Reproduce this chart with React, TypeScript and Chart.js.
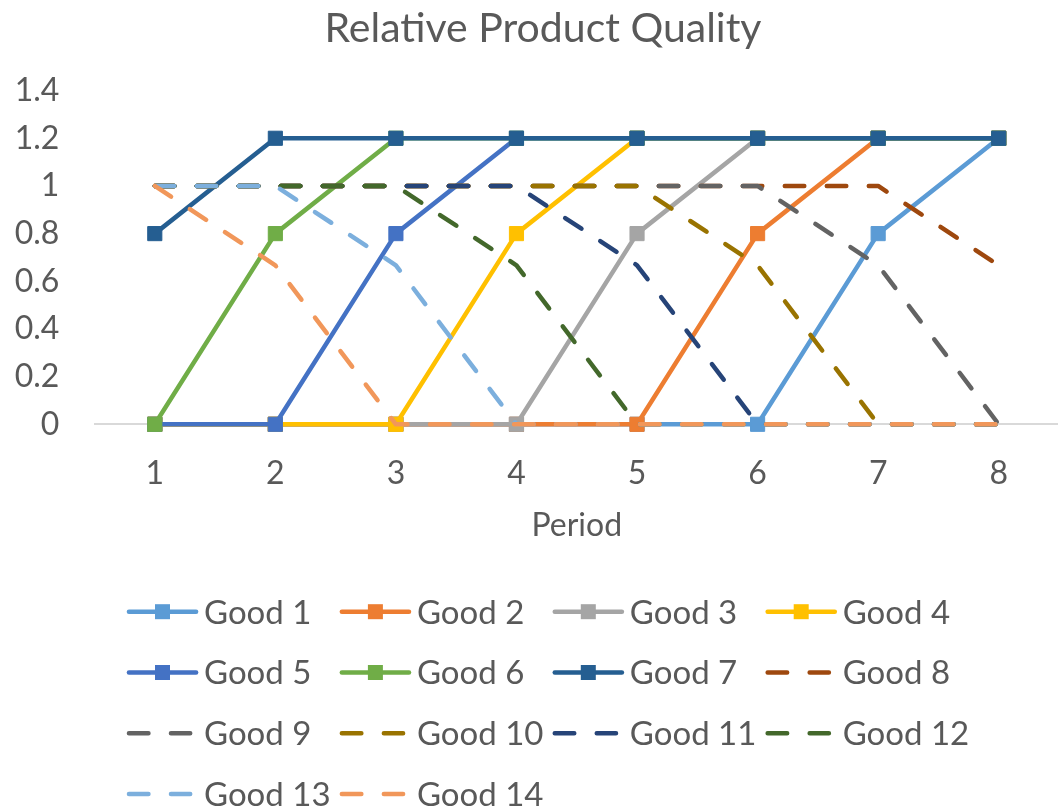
import React, { useEffect, useRef } from "react";
import { Chart, registerables } from "chart.js";

Chart.register(...registerables);

// Categories (periods) on the x axis
const periods = ["1", "2", "3", "4", "5", "6", "7", "8"];

// Series labels
const seriesNames = [
  "Good 1", "Good 2", "Good 3", "Good 4", "Good 5", "Good 6", "Good 7",
  "Good 8", "Good 9", "Good 10", "Good 11", "Good 12", "Good 13", "Good 14",
];

// Rising goods (solid lines with square markers)
const good1 = [0, 0, 0, 0, 0, 0, 0.8, 1.2];
const good2 = [0, 0, 0, 0, 0, 0.8, 1.2, 1.2];
const good3 = [0, 0, 0, 0, 0.8, 1.2, 1.2, 1.2];
const good4 = [0, 0, 0, 0.8, 1.2, 1.2, 1.2, 1.2];
const good5 = [0, 0, 0.8, 1.2, 1.2, 1.2, 1.2, 1.2];
const good6 = [0, 0.8, 1.2, 1.2, 1.2, 1.2, 1.2, 1.2];
const good7 = [0.8, 1.2, 1.2, 1.2, 1.2, 1.2, 1.2, 1.2];

// Declining goods (dashed lines)
const good8 = [1, 1, 1, 1, 1, 1, 1, 0.667];
const good9 = [1, 1, 1, 1, 1, 1, 0.667, 0];
const good10 = [1, 1, 1, 1, 1, 0.667, 0, 0];
const good11 = [1, 1, 1, 1, 0.667, 0, 0, 0];
const good12 = [1, 1, 1, 0.667, 0, 0, 0, 0];
const good13 = [1, 1, 0.667, 0, 0, 0, 0, 0];
const good14 = [1, 0.667, 0, 0, 0, 0, 0, 0];

const seriesValues = [
  good1, good2, good3, good4, good5, good6, good7,
  good8, good9, good10, good11, good12, good13, good14,
];

const seriesColors = [
  "#5B9BD5", "#ED7D31", "#A5A5A5", "#FFC000", "#4472C4", "#70AD47", "#255E91",
  "#9E480E", "#636363", "#997300", "#264478", "#43682B", "#7CAFDD", "#F1975A",
];

// Which series are drawn dashed (no markers)
const dashedSeries = [
  false, false, false, false, false, false, false,
  true, true, true, true, true, true, true,
];

// Y axis range
const yMin = 0;
const yMax = 1.4;
const yStep = 0.2;

const chartTitle = "Relative Product Quality";
const xAxisTitle = "Period";

const FONT = "Lato, 'Open Sans', sans-serif";
const TEXT = "#595959";
const LINE_W = 4.5;
const DASH = [19.5, 22.5];

// Chart title, centred a little right of the canvas middle
const titleText = {
  id: "titleText",
  afterDraw(chart: any) {
    const ctx = chart.ctx as CanvasRenderingContext2D;
    ctx.save();
    ctx.fillStyle = TEXT;
    ctx.font = `41px ${FONT}`;
    ctx.textAlign = "center";
    ctx.textBaseline = "alphabetic";
    ctx.fillText(chartTitle, 543, 41.7);
    ctx.restore();
  },
};

// Grid-style legend laid out in four columns under the x axis title
const legendGrid = {
  id: "legendGrid",
  afterDraw(chart: any) {
    const ctx = chart.ctx as CanvasRenderingContext2D;
    const x0 = 126.7;
    const colW = 212.9;
    const y0 = 611.7;
    const rowH = 60.8;
    ctx.save();
    chart.data.datasets.forEach((ds: any, i: number) => {
      const col = i % 4;
      const row = Math.floor(i / 4);
      const x = x0 + col * colW;
      const y = y0 + row * rowH;
      const dashed = dashedSeries[i];
      ctx.strokeStyle = ds.borderColor;
      ctx.lineWidth = LINE_W;
      ctx.lineCap = "round";
      ctx.setLineDash(dashed ? DASH : []);
      ctx.beginPath();
      ctx.moveTo(x + LINE_W / 2, y);
      ctx.lineTo(x + (dashed ? 63.5 : 69.4), y);
      ctx.stroke();
      ctx.setLineDash([]);
      if (!dashed) {
        ctx.fillStyle = ds.borderColor;
        ctx.fillRect(x + 35.8 - 7.5, y - 7.5, 15, 15);
      }
      ctx.fillStyle = TEXT;
      ctx.font = `33px ${FONT}`;
      ctx.textAlign = "left";
      ctx.textBaseline = "alphabetic";
      ctx.fillText(ds.label, x + 77.3, y + 11.8);
    });
    ctx.restore();
  },
};

export default function App() {
  const canvasRef = useRef<HTMLCanvasElement | null>(null);

  useEffect(() => {
    if (!canvasRef.current) return;
    const n = seriesNames.length;
    const datasets = seriesNames.map((name, i) => {
      const dashed = dashedSeries[i];
      const color = seriesColors[i];
      return {
        label: name,
        data: seriesValues[i],
        borderColor: color,
        backgroundColor: color,
        borderWidth: LINE_W,
        borderDash: dashed ? DASH : [],
        borderCapStyle: "round" as const,
        borderJoinStyle: "round" as const,
        pointStyle: "rect" as const,
        pointRadius: dashed ? 0 : 10,
        pointHoverRadius: dashed ? 0 : 10,
        pointBorderWidth: 1,
        pointBackgroundColor: color,
        pointBorderColor: color,
        tension: 0,
        fill: false,
        clip: false as const,
        // later series sit on top of earlier ones
        order: n - 1 - i,
      };
    });

    const chart = new Chart(canvasRef.current, {
      type: "line",
      data: { labels: periods, datasets },
      options: {
        responsive: false,
        animation: false,
        devicePixelRatio: 1,
        layout: { padding: { left: 0, right: 6.5, top: 90.6, bottom: 256.7 } },
        plugins: {
          legend: { display: false },
          tooltip: { enabled: false },
          title: { display: false },
        },
        scales: {
          x: {
            type: "category",
            offset: true,
            grid: { display: false, drawTicks: false },
            border: { display: true, color: "#D9D9D9", width: 2 },
            ticks: {
              color: TEXT,
              font: { family: FONT, size: 32, lineHeight: 1.2 },
              padding: 30,
              maxRotation: 0,
            },
            title: {
              display: true,
              text: xAxisTitle,
              color: TEXT,
              font: { family: FONT, size: 32, lineHeight: 1.2 },
              padding: { top: 0, bottom: 9 },
            },
            afterFit: (scale: any) => {
              scale.height = 130;
            },
          },
          y: {
            min: yMin,
            max: yMax,
            grid: { display: false, drawTicks: false },
            border: { display: false },
            ticks: {
              stepSize: yStep,
              color: TEXT,
              font: { family: FONT, size: 32, lineHeight: 1.2 },
              padding: 35.2,
              callback: (value: any) => String(Number(Number(value).toFixed(1))),
            },
            afterFit: (scale: any) => {
              scale.width = 94.5;
            },
          },
        },
      },
      plugins: [titleText, legendGrid],
    });
    return () => chart.destroy();
  }, []);

  return (
    <div
      style={{
        position: "fixed",
        left: 0,
        top: 0,
        width: 1058,
        height: 811,
        overflow: "hidden",
        background: "#ffffff",
      }}
    >
      <canvas ref={canvasRef} width={1070} height={811} style={{ display: "block" }} />
    </div>
  );
}
